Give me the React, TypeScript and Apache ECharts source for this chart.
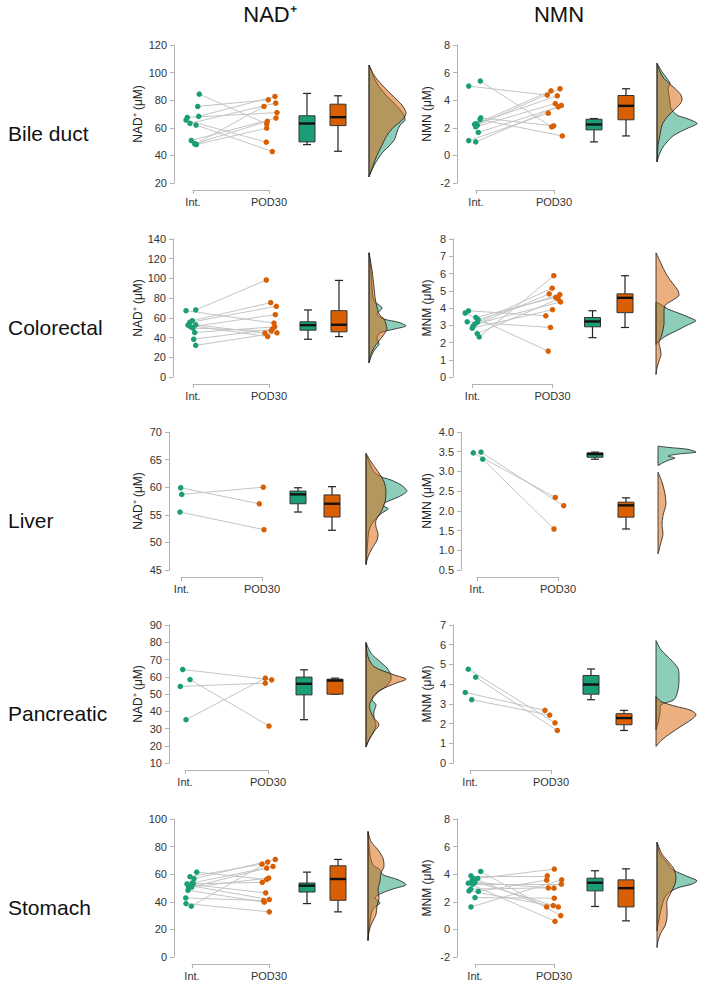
import React, { useEffect, useRef } from "react";
import * as echarts from "echarts";

// ---------- texts ----------
const ROW_NAMES = ["Bile duct", "Colorectal", "Liver", "Pancreatic", "Stomach"];
const COLUMN_TITLES = ["NAD⁺", "NMN"];
const GROUPS = ["Int.", "POD30"];
const Y_NAMES = [
  ["NAD⁺ (μM)", "NMN (μM)"],
  ["NAD⁺ (μM)", "MNM (μM)"],
  ["NAD⁺ (μM)", "NMN (μM)"],
  ["NAD⁺ (μM)", "MNM (μM)"],
  ["", "MNM (μM)"],
];

// ---------- Bile duct ----------
const bdNadTicks = [20, 120, 20, 0];
const bdNadInt = [84.4, 75.5, 68.3, 67.5, 65.6, 63.2, 62.0, 50.8, 48.4, 47.9, 48.2];
const bdNadIntJit = [6.3, 4.7, 5.7, -5.7, -7, -3, 3, -1.7, 1.7, 3.3, 2.5];
const bdNadPod = [62.8, 80.3, 82.7, 71.0, 49.6, 77.9, 42.8, 67.1, 64.7, 59.7, 75.5];
const bdNadPodJit = [-2.3, -0.7, 6, 8, -2.7, 6.7, 3.3, 7, -1.7, -2.3, -5];
const bdNadBoxInt = [47.8, 49.8, 63.1, 68.7, 84.9];
const bdNadBoxPod = [43.0, 61.6, 67.7, 77.1, 83.2];
const bdNadDenInt = [[105.5, 0], [98.2, 4], [91.0, 9], [83.7, 17], [76.4, 27], [69.2, 35], [65.5, 36], [61.9, 31], [57.0, 28], [52.2, 26], [47.4, 21], [42.5, 14], [35.3, 7], [28.0, 2], [24.4, 0]];
const bdNadDenPod = [[105.5, 0], [98.2, 5], [91.0, 13], [83.7, 23], [76.4, 33], [70.4, 37], [65.5, 33], [60.7, 25], [54.6, 18], [47.4, 13], [40.1, 8], [32.8, 4], [24.4, 0]];

const bdNmnTicks = [-2, 8, 2, 0];
const bdNmnInt = [5.02, 5.39, 2.72, 2.6, 2.3, 2.19, 2.07, 1.66, 1.07, 0.98, 2.25];
const bdNmnIntJit = [-7.3, 4.3, 4.7, 4, 0, 1.3, -0.3, 2.3, -7.3, -0.3, -1.5];
const bdNmnPod = [4.37, 2.07, 2.14, 1.41, 4.68, 4.83, 3.76, 3.52, 3.06, 3.62, 4.32];
const bdNmnPodJit = [-6.7, -2.3, -0.3, 8.3, -3, 6, 1.3, 4.3, -5.7, 7.3, 3.3];
const bdNmnBoxInt = [0.98, 1.85, 2.24, 2.62, 2.67];
const bdNmnBoxPod = [1.41, 2.58, 3.59, 4.34, 4.83];
const bdNmnDenInt = [[6.67, 0], [6.06, 5], [5.58, 10], [5.22, 13], [4.85, 11], [4.37, 12], [3.88, 13], [3.40, 14], [2.92, 20], [2.67, 30], [2.31, 40], [1.95, 30], [1.46, 17], [0.98, 10], [0.49, 5], [0.01, 2], [-0.47, 0]];
const bdNmnDenPod = [[6.67, 0], [6.06, 3], [5.58, 7], [5.22, 12], [4.85, 18], [4.37, 24], [4.0, 25], [3.64, 22], [3.16, 15], [2.67, 9], [2.19, 5], [1.46, 3], [0.73, 1], [0.01, 0.5], [-0.47, 0]];

// ---------- Colorectal ----------
const crNadTicks = [0, 140, 20, 0];
const crNadInt = [67.3, 68.0, 57.1, 55.4, 53.0, 52.6, 50.9, 49.6, 45.1, 38.3, 32.1];
const crNadIntJit = [-7, 2.7, -0.7, -3.3, 2.7, -5, -2.3, 0, 1.7, 0.7, 2.7];
const crNadPod = [54.7, 98.4, 75.5, 71.7, 44.4, 41.0, 63.2, 46.8, 50.9, 48.5, 44.8];
const crNadPodJit = [5, -2.7, 1.7, 7.3, -4, -1.3, 6.3, 2.3, 5.7, 3.3, 8];
const crNadBoxInt = [38.3, 47.5, 52.6, 56.0, 68.0];
const crNadBoxPod = [41.0, 45.8, 53.0, 67.3, 98.0];
const crNadDenInt = [[126, 0], [108.3, 2], [91.2, 3], [77.5, 5], [70.0, 13], [63.9, 8], [58.8, 15], [55.4, 30], [51.9, 37], [48.5, 25], [45.1, 12], [40.0, 8], [33.2, 10], [28.1, 6], [22.9, 3], [14.4, 0]];
const crNadDenPod = [[126, 0], [108.3, 3], [91.2, 5], [81, 6], [70.7, 8], [63.9, 10], [58.8, 15], [53.6, 17], [48.5, 18], [43.4, 15], [36.6, 10], [29.7, 5], [22.9, 2], [14.4, 0]];

const crMnmTicks = [0, 8, 1, 0];
const crMnmInt = [3.84, 3.71, 3.45, 3.2, 3.32, 3.06, 3.16, 2.83, 2.52, 2.32, 2.97];
const crMnmIntJit = [-4, -7.3, 3.3, -5.3, 5.7, 2.3, 4.7, -0.3, 4.7, 6.7, 0.7];
const crMnmPod = [3.55, 1.5, 4.62, 2.87, 4.78, 4.35, 5.15, 3.9, 4.52, 5.87, 4.82];
const crMnmPodJit = [-6.7, -4.3, 3.3, -2, 7.3, 8, -0.3, 0, 5.7, 1.3, -3.3];
const crMnmBoxInt = [2.28, 2.91, 3.22, 3.45, 3.84];
const crMnmBoxPod = [2.87, 3.73, 4.59, 4.82, 5.87];
const crMnmDenInt = [[4.33, 0], [4.23, 4], [3.94, 12], [3.65, 25], [3.36, 37], [3.26, 40], [2.97, 30], [2.67, 20], [2.38, 10], [2.09, 3], [1.89, 0]];
const crMnmDenPod = [[7.2, 0], [6.58, 5], [5.99, 10], [5.40, 17], [5.01, 22], [4.72, 23], [4.43, 16], [4.14, 9], [3.65, 8], [3.06, 8], [2.48, 6], [1.99, 3], [1.70, 4], [1.31, 5], [0.92, 3], [0.53, 1], [0.14, 0]];

// ---------- Liver ----------
const lvNadTicks = [45, 70, 5, 0];
const lvNadInt = [59.9, 58.7, 55.5];
const lvNadIntJit = [-0.8, 0.2, -1.5];
const lvNadPod = [57.0, 60.0, 52.3];
const lvNadPodJit = [-2.7, 1.3, 2];
const lvNadBoxInt = [55.5, 57.0, 58.7, 59.3, 59.9];
const lvNadBoxPod = [52.2, 54.6, 57.0, 58.6, 60.1];
const lvNadDenInt = [[66.1, 0], [64.6, 3], [62.8, 8], [61.9, 15], [61.3, 25], [60.4, 35], [59.3, 41], [58.2, 32], [57.3, 20], [56.7, 17], [56.1, 22], [55.2, 15], [54.3, 10], [53.4, 6], [52.2, 3], [50.7, 2], [48.3, 1], [46.0, 0]];
const lvNadDenPod = [[66.1, 0], [64.6, 5], [62.8, 12], [61.0, 18], [59.2, 20], [57.3, 19], [55.5, 15], [54.0, 10], [52.8, 10], [51.6, 12], [50.4, 11], [48.9, 6], [47.4, 2], [46.0, 0]];

const lvNmnTicks = [0.5, 4, 0.5, 1];
const lvNmnInt = [3.47, 3.49, 3.31];
const lvNmnIntJit = [-3.7, 4, 5.7];
const lvNmnPod = [2.34, 2.13, 1.54];
const lvNmnPodJit = [-2.7, 5.7, -4];
const lvNmnBoxInt = [3.31, 3.36, 3.44, 3.47, 3.49];
const lvNmnBoxPod = [1.54, 1.84, 2.14, 2.22, 2.33];
const lvNmnDenInt = [[3.64, 0], [3.61, 10], [3.56, 30], [3.49, 38], [3.44, 20], [3.39, 10], [3.34, 17], [3.28, 10], [3.22, 5], [3.15, 0]];
const lvNmnDenPod = [[2.98, 0], [2.73, 4], [2.43, 7], [2.18, 8], [1.88, 5], [1.63, 4], [1.42, 5], [1.20, 3], [0.91, 0]];

// ---------- Pancreatic ----------
const pcNadTicks = [10, 90, 10, 0];
const pcNadInt = [64.2, 58.4, 54.4, 35.1];
const pcNadIntJit = [-2.3, 5, -4.7, 1];
const pcNadPod = [58.2, 31.4, 56.3, 59.2];
const pcNadPodJit = [3.7, 1, -2.7, -2.7];
const pcNadBoxInt = [35.1, 49.5, 55.9, 59.8, 64.0];
const pcNadBoxPod = [49.9, 49.9, 57.8, 58.6, 59.2];
const pcNadDenInt = [[79.8, 0], [73.6, 5], [68.8, 14], [65.0, 21], [61.1, 25], [58.2, 25], [54.4, 20], [50.5, 10], [46.6, 6], [43.8, 10], [39.9, 8], [36.1, 8], [32.2, 10], [28.3, 8], [23.5, 3], [19.3, 0]];
const pcNadDenPod = [[79.8, 0], [71.7, 2], [65.9, 8], [61.1, 28], [58.6, 40], [56.3, 30], [52.4, 15], [48.6, 8], [44.7, 4], [40.9, 4], [36.1, 8], [32.2, 13], [28.3, 8], [23.5, 3], [19.3, 0]];

const pcMnmTicks = [0, 7, 1, 0];
const pcMnmInt = [4.76, 4.35, 3.58, 3.21];
const pcMnmIntJit = [-1.7, 5.7, -4.7, 1.7];
const pcMnmPod = [2.04, 1.65, 2.67, 2.43];
const pcMnmPodJit = [4, 6.3, -6, -1.3];
const pcMnmBoxInt = [3.21, 3.49, 3.98, 4.44, 4.77];
const pcMnmBoxPod = [1.65, 1.94, 2.28, 2.50, 2.67];
const pcMnmDenInt = [[6.21, 0], [5.74, 5], [5.23, 15], [4.81, 22], [4.47, 23], [4.13, 23], [3.71, 22], [3.21, 18], [2.95, 5], [2.53, 4], [2.02, 2], [1.69, 0]];
const pcMnmDenPod = [[3.37, 0], [3.12, 5], [2.87, 20], [2.67, 35], [2.45, 40], [2.19, 35], [1.86, 25], [1.52, 15], [1.18, 6], [0.84, 0]];

// ---------- Stomach ----------
const stNadTicks = [0, 100, 20, 0];
const stNadInt = [61.5, 58.2, 56.7, 53.6, 52.9, 51.7, 50.5, 48.3, 50.7, 42.8, 38.7, 36.8, 53.1];
const stNadIntJit = [4.7, -2, 2, 0, -5, -2, -3.3, -4, -0.3, -6.3, -6, -0.7, 1.3];
const stNadPod = [56.2, 67.3, 70.7, 65.6, 46.4, 41.6, 57.2, 39.7, 64.4, 40.9, 32.7, 68.8, 54.1];
const stNadPodJit = [-2.3, -7, 6.3, 4, -3.3, 0.3, -0.3, -4.7, -2.3, -5.3, 0.3, -1.3, -6.7];
const stNadBoxInt = [38.7, 47.1, 51.7, 53.6, 61.5];
const stNadBoxPod = [32.7, 41.1, 56.5, 66.1, 70.7];
const stNadDenInt = [[90.9, 0], [74, 2], [66.8, 5], [63.2, 12], [59.6, 15], [56.0, 30], [52.4, 38], [49.3, 25], [45.7, 12], [42.8, 7], [39.2, 12], [36.8, 8], [33.2, 4], [26, 2], [12.0, 0]];
const stNadDenPod = [[90.9, 0], [83.7, 3], [77.6, 10], [71.6, 15], [65.6, 16], [60.8, 13], [54.8, 12], [48.8, 10], [42.8, 11], [36.8, 9], [30.8, 8], [24.8, 4], [18.8, 1], [12.0, 0]];

const stMnmTicks = [-2, 8, 2, 0];
const stMnmInt = [4.2, 3.88, 3.69, 3.69, 3.52, 3.40, 3.35, 3.28, 2.92, 2.79, 2.75, 2.31, 1.63];
const stMnmIntJit = [5.7, -4, -1.7, 2.7, -3, 0, -6.7, -2.3, -4.3, -6, 3.3, 0, -4];
const stMnmPod = [1.0, 3.88, 1.63, 4.37, 1.73, 2.99, 0.59, 3.28, 3.01, 1.63, 3.57, 2.26, 3.59];
const stMnmPodJit = [6.7, -6.7, -7.3, 0.3, -0.7, 0, 1, 7.3, -5.7, 4.3, -7.3, 0.3, 7.7];
const stMnmBoxInt = [1.66, 2.79, 3.38, 3.71, 4.25];
const stMnmBoxPod = [0.62, 1.63, 2.99, 3.59, 4.39];
const stMnmDenInt = [[6.31, 0], [5.46, 3], [4.85, 10], [4.37, 15], [4.0, 25], [3.76, 33], [3.52, 40], [3.28, 35], [3.04, 22], [2.67, 12], [2.19, 7], [1.7, 5], [1.1, 3], [0.37, 1], [-0.1, 0]];
const stMnmDenPod = [[6.31, 0], [5.46, 5], [4.85, 12], [4.37, 17], [3.76, 19], [3.28, 18], [2.67, 14], [2.07, 10], [1.46, 10], [0.86, 10], [0.25, 8], [-0.23, 4], [-0.84, 1], [-1.32, 0]];

// ---------- panels ----------
const PANELS = [
  { row: 0, col: 0, ticks: bdNadTicks, int: bdNadInt, intJit: bdNadIntJit, pod: bdNadPod, podJit: bdNadPodJit, boxInt: bdNadBoxInt, boxPod: bdNadBoxPod, denInt: bdNadDenInt, denPod: bdNadDenPod },
  { row: 0, col: 1, ticks: bdNmnTicks, int: bdNmnInt, intJit: bdNmnIntJit, pod: bdNmnPod, podJit: bdNmnPodJit, boxInt: bdNmnBoxInt, boxPod: bdNmnBoxPod, denInt: bdNmnDenInt, denPod: bdNmnDenPod },
  { row: 1, col: 0, ticks: crNadTicks, int: crNadInt, intJit: crNadIntJit, pod: crNadPod, podJit: crNadPodJit, boxInt: crNadBoxInt, boxPod: crNadBoxPod, denInt: crNadDenInt, denPod: crNadDenPod },
  { row: 1, col: 1, ticks: crMnmTicks, int: crMnmInt, intJit: crMnmIntJit, pod: crMnmPod, podJit: crMnmPodJit, boxInt: crMnmBoxInt, boxPod: crMnmBoxPod, denInt: crMnmDenInt, denPod: crMnmDenPod },
  { row: 2, col: 0, ticks: lvNadTicks, int: lvNadInt, intJit: lvNadIntJit, pod: lvNadPod, podJit: lvNadPodJit, boxInt: lvNadBoxInt, boxPod: lvNadBoxPod, denInt: lvNadDenInt, denPod: lvNadDenPod },
  { row: 2, col: 1, ticks: lvNmnTicks, int: lvNmnInt, intJit: lvNmnIntJit, pod: lvNmnPod, podJit: lvNmnPodJit, boxInt: lvNmnBoxInt, boxPod: lvNmnBoxPod, denInt: lvNmnDenInt, denPod: lvNmnDenPod },
  { row: 3, col: 0, ticks: pcNadTicks, int: pcNadInt, intJit: pcNadIntJit, pod: pcNadPod, podJit: pcNadPodJit, boxInt: pcNadBoxInt, boxPod: pcNadBoxPod, denInt: pcNadDenInt, denPod: pcNadDenPod },
  { row: 3, col: 1, ticks: pcMnmTicks, int: pcMnmInt, intJit: pcMnmIntJit, pod: pcMnmPod, podJit: pcMnmPodJit, boxInt: pcMnmBoxInt, boxPod: pcMnmBoxPod, denInt: pcMnmDenInt, denPod: pcMnmDenPod },
  { row: 4, col: 0, ticks: stNadTicks, int: stNadInt, intJit: stNadIntJit, pod: stNadPod, podJit: stNadPodJit, boxInt: stNadBoxInt, boxPod: stNadBoxPod, denInt: stNadDenInt, denPod: stNadDenPod },
  { row: 4, col: 1, ticks: stMnmTicks, int: stMnmInt, intJit: stMnmIntJit, pod: stMnmPod, podJit: stMnmPodJit, boxInt: stMnmBoxInt, boxPod: stMnmBoxPod, denInt: stMnmDenInt, denPod: stMnmDenPod },
];

// layout: [axisX, intOffset, podOffset, box1Offset, box2Offset, densityBaseOffset] (px)
const PANEL_LAYOUT = [
  [174, 19, 95, 133, 164, 195],
  [457, 19, 97, 137, 169, 200],
  [173, 20, 96, 135, 166, 196],
  [453, 19.5, 99.5, 139.5, 172, 203],
  [169, 12.5, 93, 129, 163, 197],
  [461, 16, 97, 134, 165, 197],
  [169, 16, 99, 135, 166, 197],
  [453, 17, 98, 138, 171, 203],
  [174, 18, 95, 133, 164, 194],
  [457, 18, 97, 138, 169, 200],
];
const ROW_TOP = [45, 239, 432, 625, 819];
const PLOT_H = 138;
const TITLE_X = [270, 559];
const YNAME_CENTER = [138, 427];

const TEAL = "#1b9e77";
const ORANGE = "#d95f02";
const TEAL_A = "rgba(27,158,119,0.5)";
const ORANGE_A = "rgba(217,95,2,0.5)";
const AXIS_GRAY = "#b3b3b3";
const FONT = '"Liberation Sans", Arial, Helvetica, sans-serif';

function densitySeries(gi: number, base: number, pts: number[][], fill: string) {
  return {
    type: "custom",
    xAxisIndex: gi,
    yAxisIndex: gi,
    clip: false,
    silent: true,
    z: 2,
    data: pts.map((p) => [base + p[1], p[0]]),
    renderItem: (params: any, api: any) => {
      if (params.dataIndex !== 0) return null;
      const cs = pts.map((p) => api.coord([base + p[1], p[0]]));
      let minx = Infinity, miny = Infinity, maxx = -Infinity, maxy = -Infinity;
      cs.forEach((c: number[]) => {
        minx = Math.min(minx, c[0]); maxx = Math.max(maxx, c[0]);
        miny = Math.min(miny, c[1]); maxy = Math.max(maxy, c[1]);
      });
      return {
        type: "polygon",
        shape: { points: cs, smooth: 0.3, smoothConstraint: [[minx, miny], [maxx, maxy]] },
        style: { fill, stroke: "#1a1a1a", lineWidth: 0.8 },
      };
    },
  };
}

function boxSeries(gi: number, b1: number, b2: number, boxInt: number[], boxPod: number[]) {
  return {
    type: "custom",
    xAxisIndex: gi,
    yAxisIndex: gi,
    clip: false,
    silent: true,
    z: 3,
    data: [[b1, ...boxInt], [b2, ...boxPod]],
    renderItem: (params: any, api: any) => {
      const x = api.value(0);
      const pLo = api.coord([x, api.value(1)]);
      const pQ1 = api.coord([x, api.value(2)]);
      const pMd = api.coord([x, api.value(3)]);
      const pQ3 = api.coord([x, api.value(4)]);
      const pHi = api.coord([x, api.value(5)]);
      const color = params.dataIndex === 0 ? TEAL : ORANGE;
      const cx = pLo[0];
      const hw = 8, cw = 4;
      const ls = { stroke: "#222", lineWidth: 1.2 };
      return {
        type: "group",
        children: [
          { type: "line", shape: { x1: cx, y1: pQ3[1], x2: cx, y2: pHi[1] }, style: ls },
          { type: "line", shape: { x1: cx, y1: pQ1[1], x2: cx, y2: pLo[1] }, style: ls },
          { type: "line", shape: { x1: cx - cw, y1: pHi[1], x2: cx + cw, y2: pHi[1] }, style: ls },
          { type: "line", shape: { x1: cx - cw, y1: pLo[1], x2: cx + cw, y2: pLo[1] }, style: ls },
          { type: "rect", shape: { x: cx - hw, y: pQ3[1], width: 2 * hw, height: pQ1[1] - pQ3[1] }, style: { fill: color, stroke: "#333", lineWidth: 1 } },
          { type: "line", shape: { x1: cx - hw, y1: pMd[1], x2: cx + hw, y2: pMd[1] }, style: { stroke: "#111", lineWidth: 2.4 } },
        ],
      };
    },
  };
}

function buildOption() {
  const grid: any[] = [];
  const xAxis: any[] = [];
  const yAxis: any[] = [];
  const series: any[] = [];

  PANELS.forEach((p, i) => {
    const [ax, io, po, b1, b2, den] = PANEL_LAYOUT[i];
    const top = ROW_TOP[p.row];
    const W = den + 50;
    const [mn, mx, step, dec] = p.ticks;

    const gi = grid.length;
    grid.push({ left: ax, top, width: W, height: PLOT_H });
    xAxis.push({ gridIndex: gi, type: "value", min: 0, max: W, show: false });
    yAxis.push({
      gridIndex: gi,
      type: "value",
      min: mn,
      max: mx,
      interval: step,
      axisLine: { show: true, lineStyle: { color: AXIS_GRAY, width: 1 } },
      axisTick: { show: true, inside: false, length: 4, lineStyle: { color: AXIS_GRAY } },
      axisLabel: { color: "#333", fontSize: 11, margin: 7, fontFamily: FONT, formatter: (v: number) => Number(v).toFixed(dec) },
      splitLine: { show: false },
      name: Y_NAMES[p.row][p.col],
      nameLocation: "middle",
      nameGap: ax - YNAME_CENTER[p.col] - 6,
      nameTextStyle: { color: "#222", fontSize: 12, fontFamily: FONT },
    });

    const bi = grid.length;
    grid.push({ left: ax + io, top: top + PLOT_H + 6, width: po - io, height: 1 });
    xAxis.push({
      gridIndex: bi,
      type: "category",
      data: GROUPS,
      boundaryGap: false,
      axisLine: { show: true, lineStyle: { color: AXIS_GRAY } },
      axisTick: { show: true, length: 4, lineStyle: { color: AXIS_GRAY } },
      axisLabel: { color: "#333", fontSize: 11, margin: 6, interval: 0, fontFamily: FONT },
      splitLine: { show: false },
    });
    yAxis.push({ gridIndex: bi, type: "value", min: 0, max: 1, show: false });

    series.push({
      type: "lines",
      coordinateSystem: "cartesian2d",
      xAxisIndex: gi,
      yAxisIndex: gi,
      silent: true,
      z: 1,
      lineStyle: { color: "#c4c4c4", width: 1, opacity: 1 },
      data: p.int.map((v, k) => ({ coords: [[io + p.intJit[k], v], [po + p.podJit[k], p.pod[k]]] })),
    });
    series.push({
      type: "scatter",
      xAxisIndex: gi,
      yAxisIndex: gi,
      symbolSize: 5.5,
      z: 4,
      silent: true,
      itemStyle: { color: TEAL, opacity: 1 },
      data: p.int.map((v, k) => [io + p.intJit[k], v]),
    });
    series.push({
      type: "scatter",
      xAxisIndex: gi,
      yAxisIndex: gi,
      symbolSize: 5.5,
      z: 4,
      silent: true,
      itemStyle: { color: ORANGE, opacity: 1 },
      data: p.pod.map((v, k) => [po + p.podJit[k], v]),
    });
    series.push(boxSeries(gi, b1, b2, p.boxInt, p.boxPod));
    series.push(densitySeries(gi, den, p.denInt, TEAL_A));
    series.push(densitySeries(gi, den, p.denPod, ORANGE_A));
  });

  const graphic: any[] = [
    ...COLUMN_TITLES.map((t, i) => ({
      type: "text",
      x: TITLE_X[i],
      y: 14,
      style: { text: t, fill: "#111", fontSize: 22, fontFamily: FONT, align: "center", verticalAlign: "middle" },
    })),
    ...ROW_NAMES.map((t, r) => ({
      type: "text",
      x: 8,
      y: ROW_TOP[r] + 88,
      style: { text: t, fill: "#111", fontSize: 21, fontFamily: FONT, align: "left", verticalAlign: "middle" },
    })),
  ];

  return {
    animation: false,
    backgroundColor: "#ffffff",
    textStyle: { fontFamily: FONT },
    grid,
    xAxis,
    yAxis,
    series,
    graphic,
  };
}

export default function App() {
  const ref = useRef<HTMLDivElement>(null);
  useEffect(() => {
    if (!ref.current) return;
    const chart = echarts.init(ref.current, undefined, { renderer: "svg" });
    chart.setOption(buildOption() as any);
    return () => chart.dispose();
  }, []);
  return (
    <div
      ref={ref}
      style={{ position: "absolute", left: 0, top: 0, width: 708, height: 993, background: "#fff" }}
    />
  );
}
